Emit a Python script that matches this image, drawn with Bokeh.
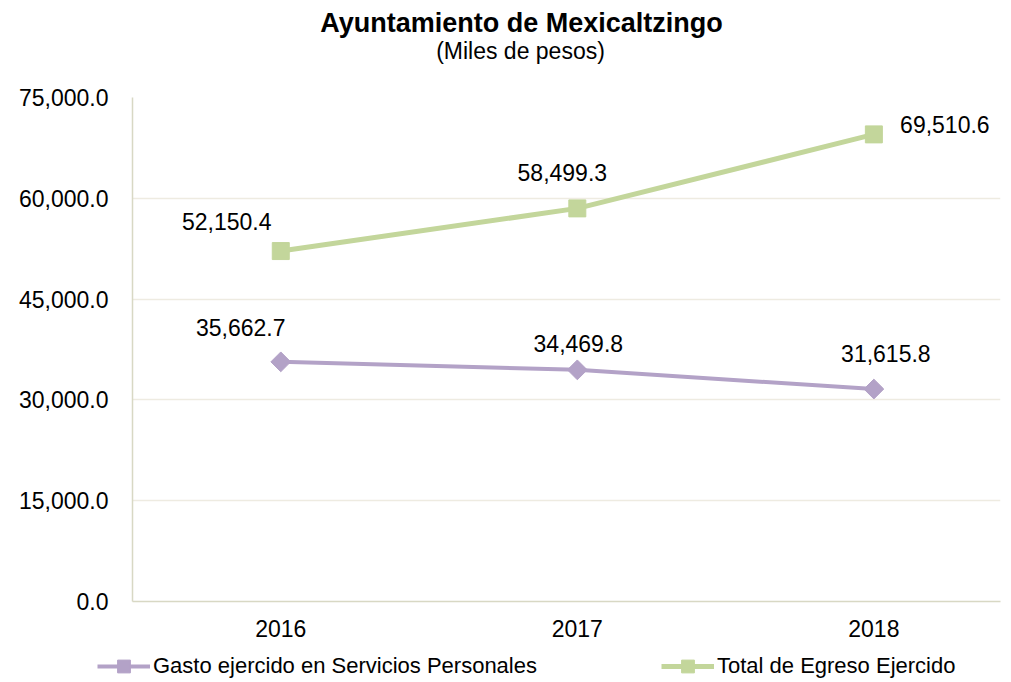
import math
from bokeh.plotting import figure
from bokeh.layouts import column
from bokeh.models import (ColumnDataSource, Range1d, FixedTicker, NumeralTickFormatter,
                          Label, Legend, LegendItem)
from bokeh.core.properties import value
from bokeh.embed import file_html
from bokeh.resources import INLINE

# ---- data ----
years = ["2016", "2017", "2018"]
gasto_personal = [35662.7, 34469.8, 31615.8]
total_egreso = [52150.4, 58499.3, 69510.6]
y_ticks = [0, 15000, 30000, 45000, 60000, 75000]

series1_name = "Gasto ejercido en Servicios Personales"
series2_name = "Total de Egreso Ejercido"
title_text = "Ayuntamiento de Mexicaltzingo"
subtitle_text = "(Miles de pesos)"

# label offsets (screen px, styling only)
off1_x = [-40, 1, 12]
off1_y = [34, 26, 36]
off2_x = [-54, -15, 71]
off2_y = [30, 36, 10]

FONT = "Liberation Sans"
PURPLE = "#B3A2C7"
GREEN = "#C3D69B"
AXIS = "#D8D8C4"
GRID = "#EEEBE1"
W = 1008


def bare(fig):
    fig.outline_line_color = None
    fig.background_fill_color = "white"
    fig.border_fill_color = "white"
    fig.frame_align = False
    return fig


def strip(height):
    f = bare(figure(width=W, height=height, output_backend="svg", toolbar_location=None,
                    x_axis_location=None, y_axis_location=None,
                    x_range=Range1d(0, 1), y_range=Range1d(0, 1),
                    min_border=0, min_border_left=0, min_border_right=0,
                    min_border_top=0, min_border_bottom=0))
    f.grid.visible = False
    return f


# ---- title strip ----
pt = strip(75)
pt.add_layout(Label(x=521, y=53, x_units="screen", y_units="screen", text=title_text,
                    text_font=FONT, text_font_size="27px", text_font_style="bold",
                    text_align="center", text_baseline="middle", text_color="black"))
pt.add_layout(Label(x=520, y=25, x_units="screen", y_units="screen", text=subtitle_text,
                    text_font=FONT, text_font_size="23px",
                    text_align="center", text_baseline="middle", text_color="black"))

# ---- main chart ----
xs = list(range(len(years)))
src1 = ColumnDataSource(dict(x=xs, y=gasto_personal,
                             lbl=[f"{v:,.1f}" for v in gasto_personal],
                             ox=off1_x, oy=[-v for v in off1_y]))
src2 = ColumnDataSource(dict(x=xs, y=total_egreso,
                             lbl=[f"{v:,.1f}" for v in total_egreso],
                             ox=off2_x, oy=[-v for v in off2_y]))

p = bare(figure(width=W, height=575, output_backend="svg", toolbar_location=None,
                x_range=Range1d(-0.5, 2.427), y_range=Range1d(0, 75000),
                min_border_left=132, min_border_right=8, min_border_top=22,
                min_border_bottom=49))

p.yaxis.ticker = FixedTicker(ticks=y_ticks)
p.yaxis.formatter = NumeralTickFormatter(format="0,0.0")
p.xaxis.ticker = FixedTicker(ticks=xs)
p.xaxis.major_label_overrides = {i: y for i, y in enumerate(years)}
for ax in (p.xaxis, p.yaxis):
    ax.axis_line_color = AXIS
    ax.axis_line_width = 1.5
    ax.major_tick_in = 0
    ax.major_tick_out = 0
    ax.minor_tick_in = 0
    ax.minor_tick_out = 0
    ax.major_label_text_font = FONT
    ax.major_label_text_font_size = "23px"
    ax.major_label_text_color = "black"
p.yaxis.major_label_standoff = 24
p.xaxis.major_label_standoff = 18

p.xgrid.grid_line_color = None
p.ygrid.grid_line_color = GRID
p.ygrid.grid_line_width = 1.5


def draw_series(fig, src, color, marker, angle, size, lw):
    ln = fig.line("x", "y", source=src, line_color=color, line_width=lw)
    mk = fig.scatter("x", "y", source=src, marker=marker, angle=angle, size=size,
                     fill_color=color, line_color=color)
    return ln, mk


draw_series(p, src1, PURPLE, "square", math.pi / 4, 14, 4)
draw_series(p, src2, GREEN, "square", 0, 17, 5)

for src in (src1, src2):
    p.text("x", "y", text="lbl", source=src, x_offset="ox", y_offset="oy",
           text_align="center", text_baseline="middle",
           text_font=value(FONT), text_font_size="23px", text_color="black")

# ---- legend strip (same series, drawn outside its visible range) ----
pl = strip(32)
l1 = draw_series(pl, src1, PURPLE, "square", math.pi / 4, 14, 4)
l2 = draw_series(pl, src2, GREEN, "square", 0, 17, 5)
legend = Legend(items=[LegendItem(label=series1_name, renderers=list(l1)),
                       LegendItem(label=series2_name, renderers=list(l2))],
                orientation="horizontal", location=(97, 0),
                glyph_width=53, glyph_height=32, label_height=32, label_standoff=3,
                spacing=124, padding=0, margin=0,
                label_text_font=FONT, label_text_font_size="22px",
                label_text_color="black",
                border_line_color=None, background_fill_alpha=0)
pl.add_layout(legend, "center")

layout = column(pt, p, pl, spacing=0)
open("out.html", "w").write(file_html(layout, INLINE))
